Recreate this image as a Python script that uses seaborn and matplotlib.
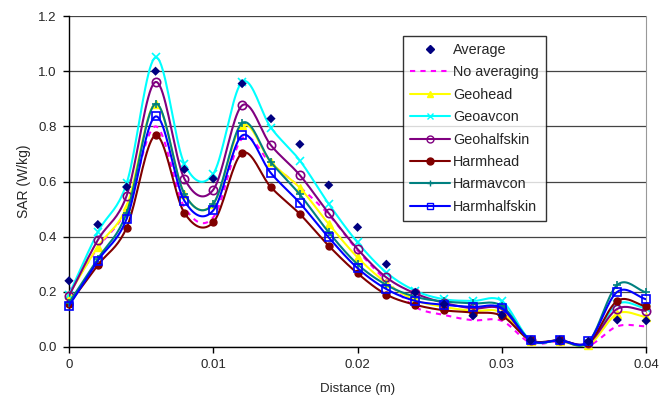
import numpy as np
import pandas as pd
import seaborn as sns
import matplotlib.pyplot as plt
from matplotlib.lines import Line2D

# distance along the line (m)
distance = [0.0, 0.002, 0.004, 0.006, 0.008, 0.010, 0.012, 0.014, 0.016, 0.018, 0.020,
            0.022, 0.024, 0.026, 0.028, 0.030, 0.032, 0.034, 0.036, 0.038, 0.040]

average = [0.24, 0.444, 0.58, 1.0, 0.644, 0.61, 0.955, 0.828, 0.735, 0.587, 0.434,
           0.30, 0.198, 0.155, 0.113, 0.115, 0.024, 0.024, 0.02, 0.098, 0.095]
no_averaging = [0.20, 0.36, 0.50, 0.80, 0.507, 0.47, 0.756, 0.665, 0.58, 0.48, 0.35,
                0.24, 0.145, 0.116, 0.097, 0.095, 0.015, 0.02, 0.005, 0.075, 0.075]
geohead = [0.19, 0.364, 0.51, 0.882, 0.555, 0.519, 0.804, 0.67, 0.577, 0.446, 0.325,
           0.232, 0.17, 0.145, 0.131, 0.125, 0.022, 0.022, 0.007, 0.121, 0.109]
geoavcon = [0.19, 0.416, 0.594, 1.05, 0.664, 0.628, 0.961, 0.795, 0.676, 0.519, 0.379,
            0.27, 0.204, 0.173, 0.167, 0.167, 0.024, 0.024, 0.015, 0.155, 0.14]
geohalfskin = [0.185, 0.388, 0.549, 0.961, 0.61, 0.57, 0.876, 0.731, 0.623, 0.485, 0.355,
               0.252, 0.194, 0.16, 0.14, 0.137, 0.024, 0.024, 0.015, 0.138, 0.131]
harmhead = [0.156, 0.297, 0.433, 0.767, 0.486, 0.452, 0.703, 0.579, 0.482, 0.367, 0.267,
            0.19, 0.153, 0.133, 0.125, 0.113, 0.024, 0.024, 0.015, 0.167, 0.147]
harmavcon = [0.16, 0.32, 0.487, 0.882, 0.555, 0.519, 0.812, 0.67, 0.553, 0.416, 0.30,
             0.225, 0.182, 0.165, 0.158, 0.149, 0.024, 0.024, 0.018, 0.225, 0.198]
harmhalfskin = [0.149, 0.313, 0.465, 0.836, 0.53, 0.495, 0.767, 0.63, 0.522, 0.397, 0.286,
                0.21, 0.167, 0.153, 0.145, 0.141, 0.024, 0.024, 0.02, 0.2, 0.173]

x_ticks = [0, 0.01, 0.02, 0.03, 0.04]
x_labels = ['0', '0.01', '0.02', '0.03', '0.04']
y_ticks = [0.0, 0.2, 0.4, 0.6, 0.8, 1.0, 1.2]


def smooth(x, y, n=20):
    # Catmull-Rom spline through the points (like Excel's smoothed line)
    x = np.asarray(x, float)
    y = np.asarray(y, float)
    px = np.concatenate([[2 * x[0] - x[1]], x, [2 * x[-1] - x[-2]]])
    py = np.concatenate([[2 * y[0] - y[1]], y, [2 * y[-1] - y[-2]]])
    t = np.linspace(0, 1, n, endpoint=False)
    xs, ys = [], []
    for i in range(1, len(px) - 2):
        for p, out in ((px, xs), (py, ys)):
            p0, p1, p2, p3 = p[i - 1], p[i], p[i + 1], p[i + 2]
            out.extend(0.5 * (2 * p1 + (-p0 + p2) * t + (2 * p0 - 5 * p1 + 4 * p2 - p3) * t ** 2
                              + (-p0 + 3 * p1 - 3 * p2 + p3) * t ** 3))
    xs.append(x[-1])
    ys.append(y[-1])
    return np.array(xs), np.array(ys)


sns.set_style('white')
plt.rcParams['font.family'] = ['Liberation Sans', 'DejaVu Sans']

fig = plt.figure(figsize=(6.6, 4.01), dpi=100)
ax = fig.add_axes([0.1045, 0.1347, 0.8745, 0.8253])

for yv in y_ticks:
    ax.axhline(yv, color='#444444', lw=0.9, zorder=0)

# dashed series without markers
sx, sy = smooth(distance, no_averaging)
sns.lineplot(x=sx, y=sy, color='#FF00FF', lw=1.5, ax=ax, sort=False, estimator=None,
             linestyle=(0, (2.5, 2.5)), zorder=2)

series = [
    ('Geohead', geohead, '#FFFF00', '^', 'full'),
    ('Geoavcon', geoavcon, '#00FFFF', 'x', 'full'),
    ('Geohalfskin', geohalfskin, '#800080', 'o', 'none'),
    ('Harmhead', harmhead, '#800000', 'o', 'full'),
    ('Harmavcon', harmavcon, '#008080', '+', 'full'),
    ('Harmhalfskin', harmhalfskin, '#0000FF', 's', 'none'),
]

handles = [
    Line2D([], [], color='#000080', marker='D', ms=4, lw=0),
    Line2D([], [], color='#FF00FF', lw=1.5, linestyle=(0, (2.5, 2.5))),
]
labels = ['Average', 'No averaging']

for i, (name, vals, col, mk, fill) in enumerate(series):
    sx, sy = smooth(distance, vals)
    sns.lineplot(x=sx, y=sy, color=col, lw=1.5, ax=ax, sort=False, estimator=None, zorder=3 + i)
    df = pd.DataFrame({'x': distance, 'y': vals})
    if fill == 'none' or mk in ('x', '+'):
        ax.plot(df['x'], df['y'], lw=0, marker=mk, ms=6, mfc='none', mec=col, mew=1.2,
                zorder=3 + i, clip_on=False)
    else:
        ms = 6 if mk == '^' else 5
        ax.plot(df['x'], df['y'], lw=0, marker=mk, ms=ms, color=col, zorder=3 + i, clip_on=False)
    handles.append(Line2D([], [], color=col, lw=1.5, marker=mk, ms=5,
                          mfc=('none' if fill == 'none' else col), mec=col))
    labels.append(name)

sns.scatterplot(x=distance, y=average, marker='D', color='#000080', s=22, edgecolor='none',
                ax=ax, zorder=20, clip_on=False)

ax.set_xlim(0, 0.04)
ax.set_ylim(0, 1.2)
ax.set_xticks(x_ticks)
ax.set_xticklabels(x_labels)
ax.set_yticks(y_ticks)
ax.set_yticklabels([f'{v:.1f}' for v in y_ticks])
ax.tick_params(axis='both', direction='out', length=4, width=1, color='black',
               labelsize=9.5, pad=5, bottom=True, left=True)
ax.set_xlabel('Distance (m)', fontsize=9.5, labelpad=8)
ax.set_ylabel('SAR (W/kg)', fontsize=10, labelpad=5)

for side in ('left', 'bottom'):
    ax.spines[side].set_color('black')
    ax.spines[side].set_linewidth(1)
ax.spines['right'].set_color('#999999')
ax.spines['top'].set_visible(False)

leg = ax.legend(handles, labels, loc='upper left', bbox_to_anchor=(0.578, 0.94),
                frameon=True, fancybox=False, fontsize=10.4, handlelength=2.8,
                handletextpad=0.2, labelspacing=0.58, borderpad=0.5, borderaxespad=0)
leg.get_frame().set_edgecolor('black')
leg.get_frame().set_linewidth(1)
leg.set_zorder(30)

fig.savefig('out.png', dpi=100)
